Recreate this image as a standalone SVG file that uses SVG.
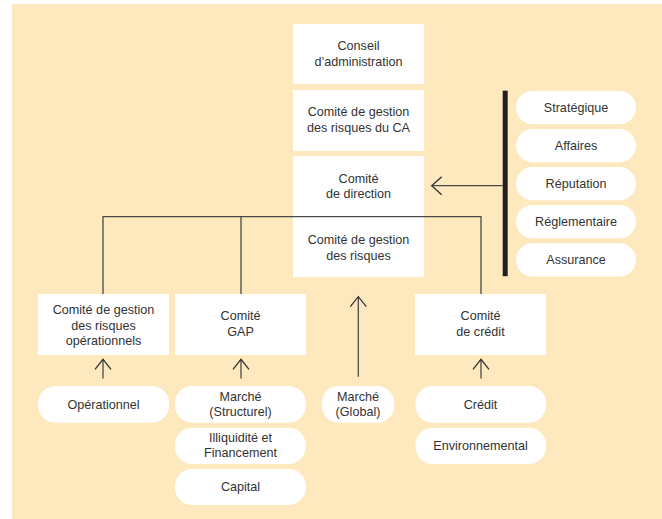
<svg xmlns="http://www.w3.org/2000/svg" width="662" height="519" viewBox="0 0 662 519">
<defs>
<style>
.box{fill:#ffffff}
.pill{fill:#ffffff}
text{font-family:"Liberation Sans",Arial,Helvetica,sans-serif;font-size:12.6px;fill:#333333;text-anchor:middle}
.ln{stroke:#4a4a4a;stroke-width:1.3;fill:none}
</style>
<marker id="ah" markerUnits="userSpaceOnUse" viewBox="-12 -10 14 20" refX="0" refY="0" markerWidth="14" markerHeight="20" orient="auto">
<path d="M-10,-8 L0,0 L-10,8" fill="none" stroke="#333333" stroke-width="1.3"/>
</marker>
<marker id="ah2" markerUnits="userSpaceOnUse" viewBox="-12 -10 14 20" refX="0" refY="0" markerWidth="14" markerHeight="20" orient="auto">
<path d="M-10,-9 L0,0 L-10,9" fill="none" stroke="#333333" stroke-width="1.3"/>
</marker>
</defs>
<rect x="12" y="4" width="650" height="515" fill="#fee8bd"/>

<g id="conseil">
<rect class="box" x="293" y="24" width="131" height="60"/>
<text x="358.5" y="49.5">Conseil</text>
<text x="358.5" y="65.7">d’administration</text>
</g>
<g id="comite-ca">
<rect class="box" x="293" y="90" width="131" height="61"/>
<text x="358.5" y="115.5">Comité de gestion</text>
<text x="358.5" y="131.7">des risques du CA</text>
</g>
<g id="comite-direction">
<rect class="box" x="293" y="156" width="131" height="121"/>
<text x="358.5" y="182.5">Comité</text>
<text x="358.5" y="197.8">de direction</text>
<text x="358.5" y="244">Comité de gestion</text>
<text x="358.5" y="259.5">des risques</text>
</g>

<g id="comite-operationnels">
<rect class="box" x="38" y="294" width="131" height="61"/>
<text x="103.5" y="314">Comité de gestion</text>
<text x="103.5" y="329.5">des risques</text>
<text x="103.5" y="345">opérationnels</text>
</g>
<g id="comite-gap">
<rect class="box" x="175" y="294" width="131" height="61"/>
<text x="240.5" y="320">Comité</text>
<text x="240.5" y="335.7">GAP</text>
</g>
<g id="comite-credit">
<rect class="box" x="415" y="294" width="131" height="61"/>
<text x="480.5" y="320">Comité</text>
<text x="480.5" y="335.7">de crédit</text>
</g>

<g id="pill-strategique">
<rect class="pill" x="516" y="91" width="120" height="33.3" rx="16.5"/>
<text x="576" y="111.8">Stratégique</text>
</g>
<g id="pill-affaires">
<rect class="pill" x="516" y="129" width="120" height="33.3" rx="16.5"/>
<text x="576" y="149.8">Affaires</text>
</g>
<g id="pill-reputation">
<rect class="pill" x="516" y="167" width="120" height="33.3" rx="16.5"/>
<text x="576" y="187.8">Réputation</text>
</g>
<g id="pill-reglementaire">
<rect class="pill" x="516" y="205" width="120" height="33.3" rx="16.5"/>
<text x="576" y="225.8">Réglementaire</text>
</g>
<g id="pill-assurance">
<rect class="pill" x="516" y="243.3" width="120" height="33.3" rx="16.5"/>
<text x="576" y="264">Assurance</text>
</g>

<g id="pill-operationnel">
<rect class="pill" x="38.3" y="386" width="130.7" height="36.7" rx="17"/>
<text x="103.5" y="408.8">Opérationnel</text>
</g>
<g id="pill-marche-structurel">
<rect class="pill" x="175" y="386" width="130.7" height="36.7" rx="17"/>
<text x="240.5" y="400.7">Marché</text>
<text x="240.5" y="416.2">(Structurel)</text>
</g>
<g id="pill-illiquidite">
<rect class="pill" x="175" y="427.7" width="130.7" height="36.3" rx="17"/>
<text x="240.5" y="441.5">Illiquidité et</text>
<text x="240.5" y="457">Financement</text>
</g>
<g id="pill-capital">
<rect class="pill" x="175" y="469" width="130.7" height="36" rx="17"/>
<text x="240.5" y="491.3">Capital</text>
</g>
<g id="pill-marche-global">
<rect class="pill" x="321.7" y="386" width="72.5" height="36.7" rx="17"/>
<text x="358" y="400.7">Marché</text>
<text x="358" y="416.2">(Global)</text>
</g>
<g id="pill-credit">
<rect class="pill" x="415.5" y="386" width="130.5" height="36.7" rx="17"/>
<text x="480.5" y="408.8">Crédit</text>
</g>
<g id="pill-environnemental">
<rect class="pill" x="415.5" y="427.7" width="130.5" height="36.3" rx="17"/>
<text x="480.5" y="450.3">Environnemental</text>
</g>

<g id="connectors">
<rect x="502.7" y="90.7" width="5" height="185.5" fill="#231f20"/>
<line class="ln" x1="502.7" y1="185.7" x2="431.7" y2="185.7" marker-end="url(#ah2)"/>
<polyline class="ln" points="103,294 103,216.7 481,216.7 481,294"/>
<line class="ln" x1="241" y1="216.7" x2="241" y2="294"/>
<line class="ln" x1="103" y1="378.5" x2="103" y2="359.3" marker-end="url(#ah)"/>
<line class="ln" x1="241" y1="378.5" x2="241" y2="359.3" marker-end="url(#ah)"/>
<line class="ln" x1="481" y1="378.5" x2="481" y2="359.3" marker-end="url(#ah)"/>
<line class="ln" x1="358.3" y1="376.7" x2="358.3" y2="296.7" marker-end="url(#ah)"/>
</g>
</svg>
